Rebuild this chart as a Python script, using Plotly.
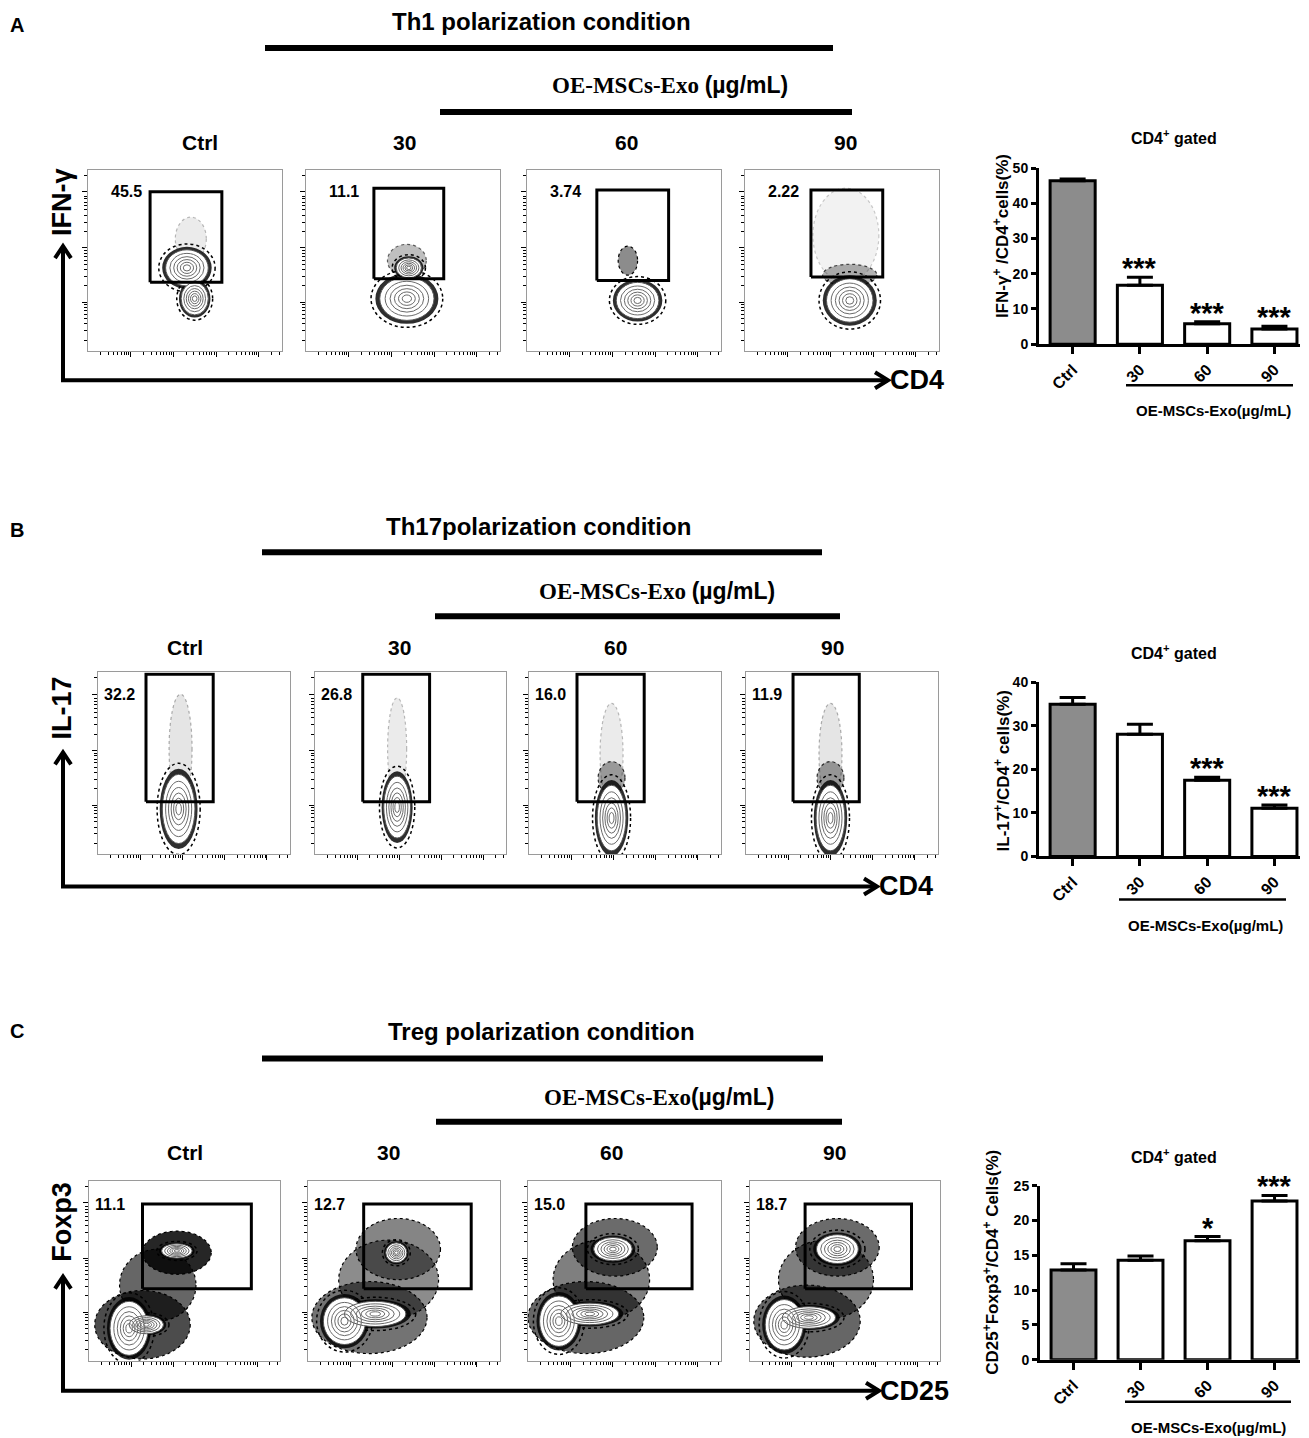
import math
import plotly.graph_objects as go

W, H = 1309, 1438
# page frame round the plot: 8 px at the left, ~16 px on top, and the shot is
# squeezed a little vertically, so reference pixels are mapped accordingly
OFF_X, OFF_Y, SQY = 8, 16.2, 0.98832
FW, FH = W - 16, 1440

conditions = ["Ctrl", "30", "60", "90"]

# right-hand bar charts: mean and upper error (SEM) per condition
ifng_mean = [46.4, 16.7, 5.8, 4.3]
ifng_sem = [0.5, 2.3, 0.6, 0.8]
ifng_stars = ["", "***", "***", "***"]

il17_mean = [35.0, 28.1, 17.5, 11.1]
il17_sem = [1.5, 2.3, 0.7, 0.7]
il17_stars = ["", "", "***", "***"]

treg_mean = [12.9, 14.3, 17.1, 22.8]
treg_sem = [0.9, 0.6, 0.6, 0.8]
treg_stars = ["", "", "*", "***"]

# gate frequencies printed on the flow plots
ifng_pct = ["45.5", "11.1", "3.74", "2.22"]
il17_pct = ["32.2", "26.8", "16.0", "11.9"]
treg_pct = ["11.1", "12.7", "15.0", "18.7"]

# gates in panel units [x0, x1, y0, y1]
ifng_gates = [[0.32, 0.69, 0.38, 0.88], [0.35, 0.71, 0.40, 0.90],
              [0.36, 0.73, 0.39, 0.89], [0.34, 0.71, 0.41, 0.89]]
il17_gates = [[0.25, 0.60, 0.29, 0.99], [0.25, 0.60, 0.29, 0.99],
              [0.25, 0.60, 0.29, 0.99], [0.245, 0.59, 0.29, 0.99]]
treg_gates = [[0.28, 0.85, 0.40, 0.87], [0.29, 0.85, 0.40, 0.87],
              [0.30, 0.85, 0.40, 0.87], [0.29, 0.85, 0.40, 0.87]]

# contoured cell clusters [cx, cy, rx, ry]
ifng_pops = [[[0.51, 0.46, 0.11, 0.10], [0.55, 0.29, 0.07, 0.09]],
             [[0.52, 0.29, 0.14, 0.12], [0.53, 0.46, 0.065, 0.055]],
             [[0.57, 0.28, 0.11, 0.10]],
             [[0.54, 0.28, 0.12, 0.12]]]
il17_pops = [[[0.42, 0.25, 0.085, 0.19]],
             [[0.43, 0.26, 0.07, 0.17]],
             [[0.43, 0.20, 0.075, 0.18]],
             [[0.44, 0.20, 0.075, 0.18]]]
treg_pops = [[[0.21, 0.18, 0.10, 0.15], [0.30, 0.20, 0.09, 0.05], [0.46, 0.61, 0.08, 0.04]],
             [[0.19, 0.22, 0.11, 0.13], [0.35, 0.26, 0.16, 0.07], [0.46, 0.60, 0.055, 0.055]],
             [[0.16, 0.22, 0.10, 0.14], [0.32, 0.26, 0.15, 0.06], [0.44, 0.62, 0.10, 0.065]],
             [[0.18, 0.20, 0.10, 0.14], [0.31, 0.24, 0.14, 0.06], [0.46, 0.62, 0.11, 0.08]]]

# loose dot clouds [cx, cy, rx, ry, density]
ifng_dots = [[[0.53, 0.62, 0.08, 0.12, 0.08]],
             [[0.52, 0.50, 0.10, 0.09, 0.25]],
             [[0.52, 0.50, 0.05, 0.08, 0.45]],
             [[0.52, 0.64, 0.17, 0.26, 0.05], [0.54, 0.42, 0.14, 0.06, 0.30]]]
il17_dots = [[[0.43, 0.58, 0.06, 0.30, 0.10]],
             [[0.43, 0.58, 0.05, 0.28, 0.08]],
             [[0.43, 0.55, 0.06, 0.28, 0.08], [0.43, 0.42, 0.07, 0.09, 0.35]],
             [[0.44, 0.55, 0.06, 0.28, 0.10], [0.44, 0.42, 0.07, 0.09, 0.35]]]
treg_dots = [[[0.28, 0.20, 0.25, 0.19, 0.70], [0.36, 0.42, 0.20, 0.20, 0.60], [0.46, 0.60, 0.18, 0.12, 0.85]],
             [[0.32, 0.24, 0.30, 0.20, 0.55], [0.42, 0.45, 0.26, 0.22, 0.45], [0.47, 0.62, 0.22, 0.17, 0.48]],
             [[0.30, 0.24, 0.30, 0.20, 0.60], [0.38, 0.45, 0.25, 0.22, 0.50], [0.45, 0.63, 0.22, 0.16, 0.58]],
             [[0.30, 0.22, 0.28, 0.20, 0.60], [0.40, 0.45, 0.25, 0.22, 0.50], [0.46, 0.63, 0.22, 0.16, 0.58]]]

SANS = "Liberation Sans"
SERIF = "Liberation Serif"


def X(px):
    return min(max((px - OFF_X) / FW, 0), 1)


def Y(py):
    return min(max(1 - (py / SQY - OFF_Y) / FH, 0), 1)


rows = [
    dict(letter="A", letter_y=25, title="Th1 polarization condition", title_xy=(541, 22),
         bar1=(265, 833, 48), oe="OE-MSCs-Exo ", oe_xy=(670, 85), bar2=(440, 852, 112),
         col_y=142, col_x=[200, 404, 626, 845],
         panels_x=[(88, 282), (306, 500), (527, 721), (745, 939)], panel_y=(170, 351),
         ylab="IFN-γ", ylab_y=202, arrow_top=246, arrow_y=380, arrow_end=888,
         xlab="CD4", xlab_x=917, pct_x=0.11, pct_y=0.88,
         bar_box=(1039, 1300, 168, 344), bar_title_y=137, ymax=50, dtick=10,
         ytitle="IFN-γ<sup>+</sup> /CD4<sup>+</sup>cells(%)", ytitle_xy=(1001, 236),
         underline=(1126, 1293, 385), oe2_xy=(1213, 410),
         data=(ifng_pct, ifng_gates, ifng_pops, ifng_dots, ifng_mean, ifng_sem, ifng_stars)),
    dict(letter="B", letter_y=530, title="Th17polarization condition", title_xy=(538, 526),
         bar1=(262, 822, 552), oe="OE-MSCs-Exo ", oe_xy=(657, 591), bar2=(435, 840, 616),
         col_y=647, col_x=[185, 399, 615, 832],
         panels_x=[(98, 290), (315, 506), (529, 721), (746, 938)], panel_y=(672, 854),
         ylab="IL-17", ylab_y=708, arrow_top=752, arrow_y=886, arrow_end=877,
         xlab="CD4", xlab_x=906, pct_x=0.02, pct_y=0.88,
         bar_box=(1039, 1300, 682, 856), bar_title_y=652, ymax=40, dtick=10,
         ytitle="IL-17<sup>+</sup>/CD4<sup>+</sup> cells(%)", ytitle_xy=(1002, 771),
         underline=(1119, 1286, 899), oe2_xy=(1205, 925),
         data=(il17_pct, il17_gates, il17_pops, il17_dots, il17_mean, il17_sem, il17_stars)),
    dict(letter="C", letter_y=1030, title="Treg polarization condition", title_xy=(541, 1031),
         bar1=(262, 823, 1058), oe="OE-MSCs-Exo", oe_xy=(659, 1096), bar2=(436, 842, 1121),
         col_y=1152, col_x=[185, 389, 611, 834],
         panels_x=[(89, 280), (308, 500), (528, 721), (750, 940)], panel_y=(1180, 1360),
         ylab="Foxp3", ylab_y=1221, arrow_top=1276, arrow_y=1390, arrow_end=879,
         xlab="CD25", xlab_x=914, pct_x=0.02, pct_y=0.87,
         bar_box=(1040, 1300, 1185, 1359), bar_title_y=1155, ymax=25, dtick=5,
         ytitle="CD25<sup>+</sup>Foxp3<sup>+</sup>/CD4<sup>+</sup> Cells(%)", ytitle_xy=(991, 1262),
         underline=(1125, 1291, 1401), oe2_xy=(1208, 1427),
         data=(treg_pct, treg_gates, treg_pops, treg_dots, treg_mean, treg_sem, treg_stars)),
]

# log-like tick marks on the flow axes
x_major = [0.22, 0.44, 0.66, 0.88]
y_major = [0.27, 0.57, 0.88]
x_minor = [m + 0.22 * math.log10(k) for m in [0.0] + x_major for k in range(2, 10)
           if m + 0.22 * math.log10(k) < 1]
y_minor = [m + 0.30 * math.log10(k) for m in [-0.03] + y_major for k in range(2, 10)
           if 0 < m + 0.30 * math.log10(k) < 1]

ring_scales = [0.8, 0.62, 0.46, 0.31, 0.17]

fig = go.Figure()
shapes = []
annotations = []
axes = {}


def ann(text, x, y, size, family=SANS, angle=0, xanchor="center", **kw):
    annotations.append(dict(text=text, x=X(x), y=Y(y), xref="paper", yref="paper",
                            showarrow=False, textangle=angle, xanchor=xanchor, yanchor="middle",
                            font=dict(family=family, size=size, color="black"), **kw))


def ellipse(xr, yr, cx, cy, rx, ry, s, **kw):
    shapes.append(dict(type="circle", xref=xr, yref=yr, layer="below",
                       x0=cx - rx * s, x1=cx + rx * s, y0=cy - ry * s, y1=cy + ry * s, **kw))


for r, row in enumerate(rows):
    pct, gates, pops, dots, mean, sem, stars = row["data"]

    # headers
    ann("<b>%s</b>" % row["letter"], 8, row["letter_y"], 20, xanchor="left")
    ann("<b>%s</b>" % row["title"], *row["title_xy"], 24)
    for x0, x1, y in (row["bar1"], row["bar2"]):
        shapes.append(dict(type="line", xref="paper", yref="paper", x0=X(x0), x1=X(x1),
                           y0=Y(y), y1=Y(y), line=dict(color="black", width=6)))
    ann("<b>%s<span style='font-family:Liberation Sans'>(µg/mL)</span></b>" % row["oe"],
        *row["oe_xy"], 23, family=SERIF)
    for c, cx in zip(conditions, row["col_x"]):
        ann("<b>%s</b>" % c, cx, row["col_y"], 21)

    # flow cytometry panels
    py0, py1 = row["panel_y"]
    for p in range(4):
        n = r * 5 + p + 1
        xr, yr = "x%d" % n, "y%d" % n
        px0, px1 = row["panels_x"][p]
        axes["xaxis%d" % n] = dict(domain=[X(px0), X(px1)], range=[0, 1], anchor=yr,
                                   showgrid=False, zeroline=False, showticklabels=False,
                                   showline=True, linecolor="#9a9a9a", linewidth=1, mirror=True,
                                   tickmode="array", tickvals=x_major, ticks="outside",
                                   ticklen=5, tickcolor="black", tickwidth=1,
                                   minor=dict(tickvals=x_minor, ticks="outside", ticklen=3,
                                              tickcolor="black", tickwidth=1))
        axes["yaxis%d" % n] = dict(domain=[Y(py1), Y(py0)], range=[0, 1], anchor=xr,
                                   showgrid=False, zeroline=False, showticklabels=False,
                                   showline=True, linecolor="#9a9a9a", linewidth=1, mirror=True,
                                   tickmode="array", tickvals=y_major, ticks="outside",
                                   ticklen=5, tickcolor="black", tickwidth=1,
                                   minor=dict(tickvals=y_minor, ticks="outside", ticklen=3,
                                              tickcolor="black", tickwidth=1))
        for cx, cy, rx, ry, a in dots[p]:
            ellipse(xr, yr, cx, cy, rx, ry, 1.0, fillcolor="rgba(0,0,0,%.2f)" % a,
                    line=dict(color="rgba(0,0,0,%.2f)" % min(1, 2 * a + 0.1), width=1.2,
                              dash="dot"))
        for cx, cy, rx, ry in pops[p]:
            ellipse(xr, yr, cx, cy, rx, ry, 1.32, line=dict(color="black", width=1.5, dash="dot"))
            ellipse(xr, yr, cx, cy, rx, ry, 1.16, fillcolor="rgba(0,0,0,0.82)", line=dict(width=0))
        for cx, cy, rx, ry in pops[p]:
            ellipse(xr, yr, cx, cy, rx, ry, 1.0, fillcolor="white",
                    line=dict(color="#555555", width=1))
        for cx, cy, rx, ry in pops[p]:
            for s in ring_scales:
                ellipse(xr, yr, cx, cy, rx, ry, s, line=dict(color="#6a6a6a", width=1))
        gx0, gx1, gy0, gy1 = gates[p]
        fig.add_trace(go.Scatter(x=[gx0, gx1, gx1, gx0, gx0], y=[gy0, gy0, gy1, gy1, gy0],
                                 mode="lines", line=dict(color="black", width=3),
                                 xaxis=xr, yaxis=yr, hoverinfo="skip", showlegend=False))
        annotations.append(dict(text="<b>%s</b>" % pct[p], x=row["pct_x"], y=row["pct_y"],
                                xref=xr, yref=yr, showarrow=False, xanchor="left",
                                yanchor="middle", font=dict(family=SANS, size=16, color="black")))

    # axis arrows beside the flow panels
    ay, top, end = row["arrow_y"], row["arrow_top"], row["arrow_end"]
    shapes.append(dict(type="path", xref="paper", yref="paper",
                       path="M %f %f L %f %f L %f %f" % (X(63), Y(top), X(63), Y(ay), X(end), Y(ay)),
                       line=dict(color="black", width=4)))
    shapes.append(dict(type="path", xref="paper", yref="paper",
                       path="M %f %f L %f %f L %f %f" % (X(55), Y(top + 12), X(63), Y(top),
                                                         X(71), Y(top + 12)),
                       line=dict(color="black", width=4)))
    shapes.append(dict(type="path", xref="paper", yref="paper",
                       path="M %f %f L %f %f L %f %f" % (X(end - 13), Y(ay - 8), X(end), Y(ay),
                                                         X(end - 13), Y(ay + 8)),
                       line=dict(color="black", width=4)))
    ann("<b>%s</b>" % row["ylab"], 62, row["ylab_y"], 27, angle=-90)
    ann("<b>%s</b>" % row["xlab"], row["xlab_x"], ay, 27)

    # summary bar chart
    n = r * 5 + 5
    xr, yr = "x%d" % n, "y%d" % n
    bx0, bx1, by0, by1 = row["bar_box"]
    fig.add_trace(go.Bar(x=conditions, y=mean, width=0.67, xaxis=xr, yaxis=yr,
                         marker=dict(color=["#8c8c8c", "white", "white", "white"],
                                     line=dict(color="black", width=3)),
                         error_y=dict(type="data", array=sem, arrayminus=[0] * 4, symmetric=False,
                                      color="black", thickness=3, width=13),
                         hoverinfo="skip", showlegend=False))
    axes["xaxis%d" % n] = dict(domain=[X(bx0), X(bx1)], anchor=yr, type="category",
                               range=[-0.5, 3.38], showgrid=False, zeroline=False,
                               showline=True, linecolor="black", linewidth=3,
                               ticks="outside", ticklen=7, tickwidth=3, tickcolor="black",
                               tickangle=-45,
                               tickfont=dict(family=SANS, size=16, color="black", weight="bold"))
    axes["yaxis%d" % n] = dict(domain=[Y(by1), Y(by0)], anchor=xr, range=[0, row["ymax"]],
                               tick0=0, dtick=row["dtick"], showgrid=False, zeroline=False,
                               showline=True, linecolor="black", linewidth=3,
                               ticks="outside", ticklen=5, tickwidth=3, tickcolor="black",
                               tickfont=dict(family=SANS, size=14, color="black", weight="bold"))
    # significance marks sit on the error caps (x given as category index)
    for i, (m, e, st) in enumerate(zip(mean, sem, stars)):
        if st:
            annotations.append(dict(text="<b>%s</b>" % st, x=i, y=m + e, xref=xr, yref=yr,
                                    showarrow=False, yanchor="bottom", yshift=-9,
                                    font=dict(family=SANS, size=29, color="black")))
    ann("<b>CD4<sup>+</sup> gated</b>", (bx0 + bx1) / 2 + 4, row["bar_title_y"], 16)
    ann("<b>%s</b>" % row["ytitle"], *row["ytitle_xy"], 17, angle=-90)
    ux0, ux1, uy = row["underline"]
    shapes.append(dict(type="line", xref="paper", yref="paper", x0=X(ux0), x1=X(ux1),
                       y0=Y(uy), y1=Y(uy), line=dict(color="black", width=2.5)))
    ann("<b>OE-MSCs-Exo(µg/mL)</b>", *row["oe2_xy"], 15)

fig.update_layout(width=FW, height=FH, margin=dict(l=0, r=0, t=0, b=0),
                  paper_bgcolor="white", plot_bgcolor="white",
                  font=dict(family=SANS, color="black"),
                  shapes=shapes, annotations=annotations, bargap=0.33, **axes)

fig.write_html("out.html")
